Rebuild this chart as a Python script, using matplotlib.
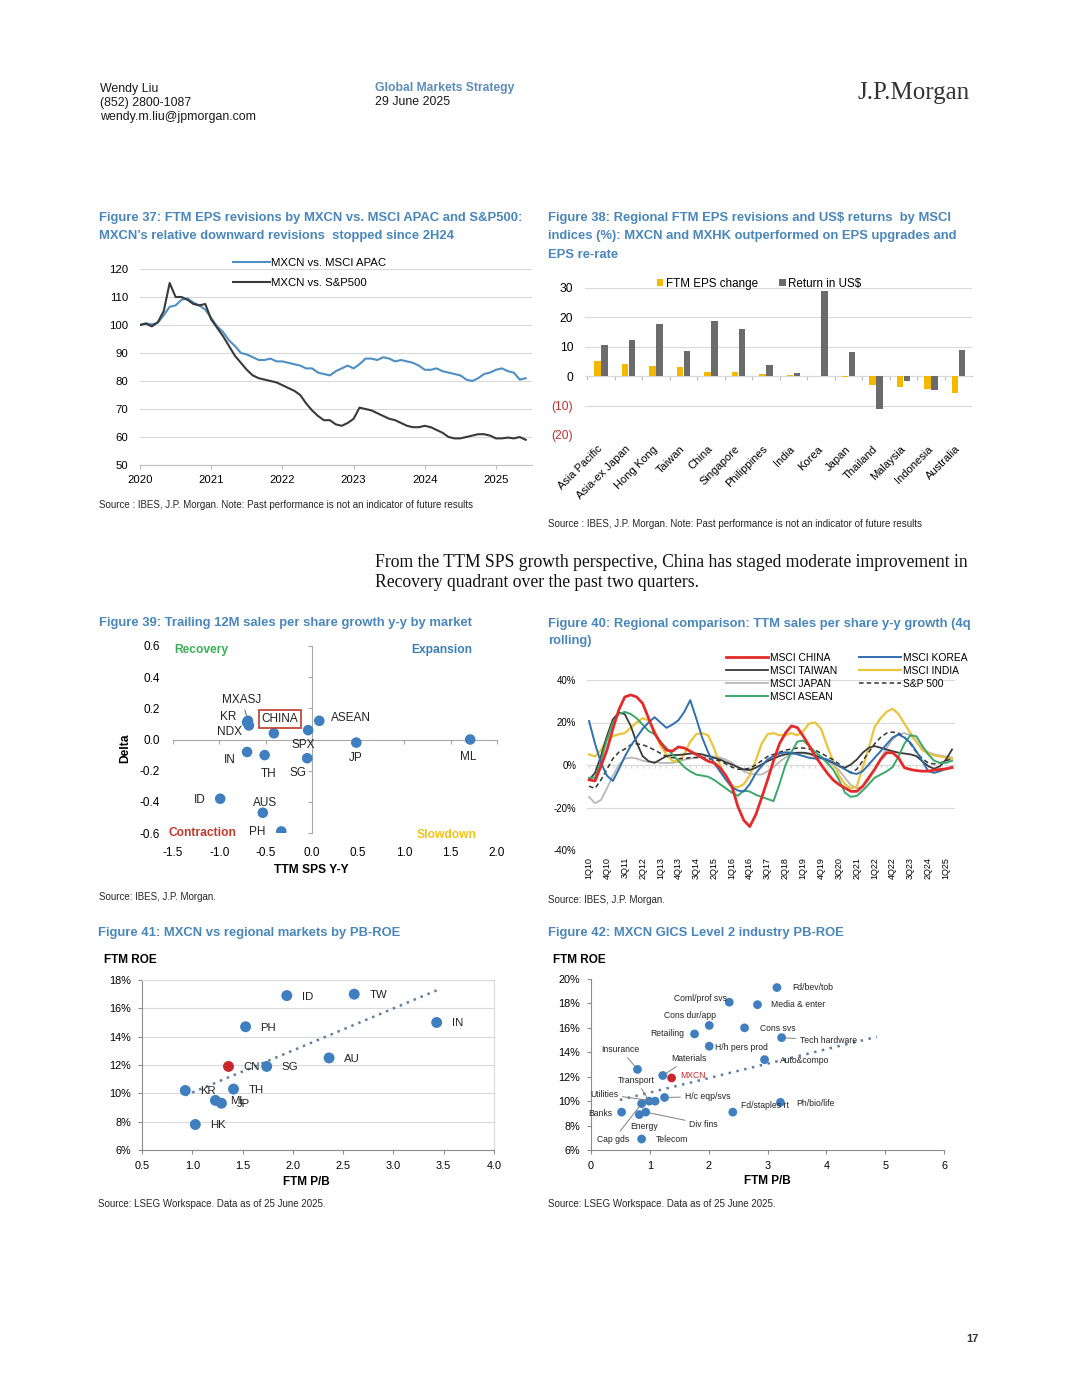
import numpy as np
import matplotlib
matplotlib.use("Agg")
import matplotlib.pyplot as plt
from matplotlib import font_manager as fm

# ============================ DATA ============================
# Figure 37 - relative FTM EPS revision index, monthly, Jan-2020 .. Jun-2025
f37_start_year = 2020
f37_apac = [100.0, 100.6, 100.2, 100.8, 103.5, 106.5, 107.0, 109.0, 109.5, 108.0, 107.0, 105.5,
            102.5, 99.5, 97.5, 94.5, 92.5, 90.0, 89.5, 88.5, 87.5, 87.5, 88.0, 87.0,
            87.0, 86.5, 86.0, 85.5, 84.5, 84.5, 83.0, 82.5, 82.0, 83.5, 84.5, 85.5,
            84.5, 86.0, 88.0, 88.0, 87.5, 88.5, 88.0, 87.0, 87.5, 87.0, 86.5, 85.5,
            84.0, 84.0, 84.5, 83.5, 83.0, 82.5, 82.0, 80.5, 80.0, 81.0, 82.5, 83.0,
            84.0, 84.5, 83.5, 83.0, 80.5, 81.0]
f37_spx = [100.0, 100.5, 99.5, 101.0, 105.0, 115.0, 110.0, 110.0, 109.0, 107.5, 107.0, 107.5,
           102.0, 99.0, 96.0, 92.5, 89.0, 86.5, 84.0, 82.0, 81.0, 80.5, 80.0, 79.5,
           78.5, 77.5, 76.5, 75.0, 72.0, 69.5, 67.5, 66.0, 66.0, 64.5, 64.0, 65.0,
           66.5, 70.5, 70.0, 69.5, 68.5, 67.5, 66.5, 66.0, 65.0, 64.0, 63.5, 63.5,
           64.0, 63.5, 62.5, 61.5, 60.0, 59.5, 59.5, 60.0, 60.5, 61.0, 61.0, 60.5,
           59.5, 59.5, 59.8, 59.5, 60.0, 59.0]
f37_labels = ["MXCN vs. MSCI APAC", "MXCN vs. S&P500"]
f37_xticks = [2020, 2021, 2022, 2023, 2024, 2025]
f37_yticks = [50, 60, 70, 80, 90, 100, 110, 120]

# Figure 38 - FTM EPS change and US$ return (%)
f38_markets = ["Asia Pacific", "Asia-ex Japan", "Hong Kong", "Taiwan", "China", "Singapore",
               "Philippines", "India", "Korea", "Japan", "Thailand", "Malaysia", "Indonesia",
               "Australia"]
f38_eps = [5.2, 4.3, 3.4, 3.2, 1.5, 1.3, 0.6, 0.4, 0.1, -0.3, -2.9, -3.8, -4.4, -5.7]
f38_ret = [10.6, 12.3, 17.8, 8.6, 18.9, 15.9, 3.8, 1.2, 28.9, 8.2, -11.1, -1.7, -4.6, 8.9]
f38_series = ["FTM EPS change", "Return in US$"]
f38_yticks = [-20, -10, 0, 10, 20, 30]
f38_yticklabels = ["(20)", "(10)", "0", "10", "20", "30"]

# Figure 39 - TTM SPS y-y vs delta
f39_names = ["MXASJ", "KR", "NDX", "CHINA", "SPX", "ASEAN", "IN", "TH", "SG", "JP", "ML",
             "ID", "AUS", "PH"]
f39_x = [-0.69, -0.70, -0.68, -0.41, -0.04, 0.08, -0.70, -0.51, -0.05, 0.48, 1.71, -0.99, -0.53, -0.33]
f39_y = [0.12, 0.11, 0.09, 0.04, 0.06, 0.12, -0.08, -0.10, -0.12, -0.02, 0.00, -0.38, -0.47, -0.59]
f39_xticks = [-1.5, -1.0, -0.5, 0.0, 0.5, 1.0, 1.5, 2.0]
f39_yticks = [-0.6, -0.4, -0.2, 0.0, 0.2, 0.4, 0.6]
f39_quadrants = ["Recovery", "Expansion", "Contraction", "Slowdown"]

# Figure 40 - TTM sales per share y-y growth (%), quarterly 1Q10 .. 2Q25
f40_quarters = [f"{q}Q{y:02d}" for y in range(10, 26) for q in range(1, 5)][:62]
f40_china = [-7, -7.5, -0.5, 7, 17, 26, 32, 33, 32, 29, 22, 15, 10.5, 7, 6.5, 8.5, 8, 6.5, 5, 3.4,
             1.8, 1, -1.3, -5, -10, -19.5, -26, -29, -23.5, -15.5, -7, 2, 10, 15, 18.4, 17.6,
             13.6, 9, 4.2, 0.2, -3.7, -7, -9.2, -10.8, -12.4, -12.4, -10, -6, -2, 2.6, 5.8, 5.8,
             3.4, -1.3, -2.1, -2.6, -2.9, -2.9, -2.4, -2.1, -1.8, -1.2]
f40_taiwan = [-7, -3.7, 4.2, 13.6, 21.5, 24.7, 23.9, 18.4, 10.5, 4.2, 1.8, 1, 2.6, 4.2, 4.7, 4.7,
              5, 5.4, 5.4, 5, 4.2, 3.4, 2.6, 1.3, 0.2, -1, -2.1, -2.4, -1.3, 0.2, 1.8, 3, 4.2, 5,
              5.4, 5.8, 5.8, 5.4, 4.5, 3.4, 2.3, 1, -0.5, -1.3, 0.2, 2.6, 5.8, 8.1, 8.9, 8.1, 7.3,
              6.5, 5.8, 5.4, 5, 4.2, 1.8, -0.5, -1.8, -0.5, 2.6, 7.3]
f40_japan = [-15, -18, -16.5, -11, -5, 0, 3, 3.5, 3, 2, 1.5, 1.5, 1, 1, 1, 1.5, 2.5, 3, 3.5, 4,
             4, 4, 3.5, 2.5, 1, -1, -3, -4, -4.5, -4.5, -3, -1, 1.5, 3.5, 5, 5.5, 5.5, 5, 4, 3,
             2, 0, -2.5, -6, -9.5, -11, -10, -7, -2, 3, 8, 12, 14.5, 15, 14, 11, 8, 6, 5, 4.5, 4, 3.5]
f40_asean = [-6, -6, 2, 12, 20, 24, 25, 24, 22, 19, 16, 14.5, 11, 8, 5, 2, -1, -3, -4.5, -5,
             -5.5, -7, -9, -11, -13, -14.5, -12, -12.5, -14, -15, -16, -17, -9, 0, 6, 11, 11.5,
             9, 6, 4, 1, -2, -7, -13, -15, -14.5, -12, -9, -6, -4.5, -3, -1, 4, 10, 14, 13.5, 9,
             5, 2, 1, 1, 2]
f40_korea = [20.7, 10, 1, -5, -7.5, -2, 4, 9, 13, 17, 20, 22.5, 20, 17.5, 19, 21, 25, 30.5, 22,
             13, 6, 1, -3, -7, -10.5, -12, -12.5, -9, -4, -0.5, 2.6, 4.2, 5.4, 6, 5.8, 5, 4.2,
             3.4, 3, 3.4, 2.6, 1.3, -0.5, -2, -3.7, -4.2, -2.9, 0.2, 3.4, 6.5, 9.7, 12.9, 14.4,
             12.9, 10.5, 6.5, 1.8, -2.9, -3.7, -2.9, -1.8, -0.9]
f40_india = [5, 4, 7, 12, 13.5, 14.5, 15, 17.5, 20, 22, 21, 16, 9, 5, 2, 1.5, 5, 11, 14.5, 15,
             14, 8, 0, -6, -10, -10.5, -9, -5, 2, 10, 14.5, 15, 14, 14, 15, 14, 16, 19.5, 20, 17,
             9, 2, -5, -9, -11, -10, -1, 8, 18, 22, 25, 26.5, 24, 19.5, 15, 11, 7, 5.5, 4.5, 4, 3.5, 3]
f40_spx = [-10, -11, -7, -2, 3, 6, 7.5, 9.5, 10, 9.5, 8.5, 7, 5.5, 4, 3.5, 3, 3, 3.5, 3.5, 3.5,
           3, 2.5, 2, 0.5, -1, -2, -2, -1.5, 0, 2, 4, 5, 6, 7, 7.5, 8, 8, 7.5, 7, 5.5, 4, 2.5,
           0.5, -2, -3.5, -2, 2, 6, 10, 13, 15, 15.5, 15, 13, 10, 6, 3, 1, 0.5, 1, 2, 3]
f40_names = ["MSCI CHINA", "MSCI TAIWAN", "MSCI JAPAN", "MSCI ASEAN", "MSCI KOREA",
             "MSCI INDIA", "S&P 500"]
f40_yticks = [-40, -20, 0, 20, 40]

# Figure 41 - markets PB vs ROE
f41_names = ["ID", "TW", "IN", "PH", "AU", "CN", "SG", "KR", "TH", "ML", "JP", "HK"]
f41_pb = [1.94, 2.61, 3.43, 1.53, 2.36, 1.36, 1.74, 0.93, 1.41, 1.23, 1.29, 1.03]
f41_roe = [16.9, 17.0, 15.0, 14.7, 12.5, 11.9, 11.9, 10.2, 10.3, 9.5, 9.3, 7.8]
f41_xticks = [0.5, 1.0, 1.5, 2.0, 2.5, 3.0, 3.5, 4.0]
f41_yticks = [6, 8, 10, 12, 14, 16, 18]

# Figure 42 - MXCN industries PB vs ROE
f42_names = ["Fd/bev/tob", "Coml/prof svs", "Media & enter", "Cons dur/app", "Cons svs",
             "Retailing", "Tech hardware", "H/h pers prod", "Auto&compo", "Insurance",
             "Materials", "MXCN", "H/c eqp/svs", "Transport", "Utilities", "Cap gds",
             "Ph/bio/life", "Banks", "Fd/staples rt", "Energy", "Div fins", "Telecom"]
f42_pb = [3.16, 2.35, 2.83, 2.01, 2.61, 1.76, 3.24, 2.01, 2.95, 0.79, 1.22, 1.37, 1.25, 0.99,
          1.09, 0.86, 3.22, 0.52, 2.41, 0.82, 0.93, 0.86]
f42_roe = [19.3, 18.1, 17.9, 16.2, 16.0, 15.5, 15.2, 14.5, 13.4, 12.6, 12.1, 11.9, 10.3, 10.0,
           10.0, 9.8, 9.9, 9.1, 9.1, 8.9, 9.1, 6.9]
f42_trend_pb = [0.49, 4.86]
f42_trend_roe = [10.1, 15.27]
f42_xticks = [0, 1, 2, 3, 4, 5, 6]
f42_yticks = [6, 8, 10, 12, 14, 16, 18, 20]

# ============================ STYLE ============================
_names = {f.name for f in fm.fontManager.ttflist}
if "Liberation Sans Narrow" in _names:
    CH, K = "Liberation Sans Narrow", 1.0
else:
    CH, K = "Liberation Sans", 0.82
SANS = "Liberation Sans"
SERIF = "Liberation Serif"
plt.rcParams["font.family"] = [CH, "DejaVu Sans"]
plt.rcParams["axes.unicode_minus"] = False


def cs(v):
    return v * K


W, H = 1080, 1398
TC = "#4a86b9"
GRID = "#d9d9d9"
AXC = "#8c8c8c"
BLUE = "#3f7fbf"
RED = "#c8282d"

fig = plt.figure(figsize=(W / 100, H / 100), dpi=100)
fig.patch.set_facecolor("white")


def R(x0, y0, x1, y1):
    return [x0 / W, 1 - y1 / H, (x1 - x0) / W, (y1 - y0) / H]


def FP(x, y):
    return (x / W, 1 - y / H)


def T(x, y, s, **kw):
    kw.setdefault("va", "center")
    kw.setdefault("ha", "left")
    kw.setdefault("family", SANS)
    return fig.text(x / W, 1 - y / H, s, **kw)


# ---------------- page header / text ----------------
T(100, 89, "Wendy Liu", size=8.9, color="#1a1a1a")
T(100, 103, "(852) 2800-1087", size=8.9, color="#1a1a1a")
T(100, 117, "wendy.m.liu@jpmorgan.com", size=8.9, color="#1a1a1a")
T(375, 88, "Global Markets Strategy", size=8.7, weight="bold", color="#5b8db8")
T(375, 102, "29 June 2025", size=8.9, color="#1a1a1a")
T(970, 93, "J.P.Morgan", size=18, family=SERIF, ha="right", color="#333333")

TK = dict(size=9.4, weight="bold", color=TC)
T(99, 218, "Figure 37: FTM EPS revisions by MXCN vs. MSCI APAC and S&P500:", **TK)
T(99, 236, "MXCN\u2019s relative downward revisions  stopped since 2H24", **TK)
T(548, 218, "Figure 38: Regional FTM EPS revisions and US$ returns  by MSCI", **TK)
T(548, 236, "indices (%): MXCN and MXHK outperformed on EPS upgrades and", **TK)
T(548, 255, "EPS re-rate", **TK)
T(99, 623, "Figure 39: Trailing 12M sales per share growth y-y by market", **TK)
T(548, 624, "Figure 40: Regional comparison: TTM sales per share y-y growth (4q", **TK)
T(548, 641, "rolling)", **TK)
T(98, 933, "Figure 41: MXCN vs regional markets by PB-ROE", **TK)
T(548, 933, "Figure 42: MXCN GICS Level 2 industry PB-ROE", **TK)

SK = dict(size=7, color="#262626")
src1 = "Source : IBES, J.P. Morgan. Note: Past performance is not an indicator of future results"
T(99, 505, src1, **SK)
T(548, 524, src1, **SK)
T(99, 897, "Source: IBES, J.P. Morgan.", **SK)
T(548, 900, "Source: IBES, J.P. Morgan.", **SK)
T(98, 1204, "Source: LSEG Workspace. Data as of 25 June 2025.", **SK)
T(548, 1204, "Source: LSEG Workspace. Data as of 25 June 2025.", **SK)

T(375, 563, "From the TTM SPS growth perspective, China has staged moderate improvement in",
  family=SERIF, size=12.7, color="#111111")
T(375, 583, "Recovery quadrant over the past two quarters.", family=SERIF, size=12.7, color="#111111")
T(972, 1339, "17", size=8, ha="center", weight="bold", color="#333333")

# ---------------- Figure 37 ----------------
ax = fig.add_axes(R(140, 269, 531.6, 465))
yrs = f37_start_year + np.arange(len(f37_apac)) / 12.0
ax.plot(yrs, f37_apac, color="#4f8fc2", lw=1.5, label=f37_labels[0])
ax.plot(yrs, f37_spx, color="#3a3a3a", lw=1.5, label=f37_labels[1])
ax.set_xlim(2020, 2025.5)
ax.set_ylim(50, 120)
ax.set_xticks(f37_xticks)
ax.set_yticks(f37_yticks)
ax.grid(axis="y", color=GRID, lw=0.8)
ax.set_axisbelow(True)
for s in ["top", "right", "left"]:
    ax.spines[s].set_visible(False)
ax.spines["bottom"].set_color("#bfbfbf")
ax.tick_params(axis="y", length=0, pad=8.5, labelsize=cs(10))
ax.tick_params(axis="x", length=3, color="#bfbfbf", pad=4.5, labelsize=cs(10))
ax.legend(loc="upper left", bbox_to_anchor=FP(233, 258), bbox_transform=fig.transFigure,
          frameon=False, fontsize=cs(10), handlelength=3.25, handletextpad=0.1,
          borderpad=0, borderaxespad=0, labelspacing=0.85)

# ---------------- Figure 38 ----------------
ax = fig.add_axes(R(585, 288, 972, 435))
xs = np.arange(len(f38_markets))
ax.bar(xs - 0.125, f38_eps, width=0.245, color="#f5b800", label=f38_series[0], zorder=3)
ax.bar(xs + 0.125, f38_ret, width=0.245, color="#6b6b6b", label=f38_series[1], zorder=3)
ax.set_xlim(-0.58, 13.49)
ax.set_ylim(-20, 30)
ax.set_yticks(f38_yticks)
ax.set_yticklabels(f38_yticklabels)
for lab, v in zip(ax.get_yticklabels(), f38_yticks):
    if v < 0:
        lab.set_color("#b83232")
ax.grid(axis="y", color=GRID, lw=0.8)
ax.set_axisbelow(True)
for s in ax.spines.values():
    s.set_visible(False)
ax.set_xticks(xs)
ax.set_xticklabels(f38_markets, rotation=45, ha="right", va="center", rotation_mode="anchor")
ax.tick_params(axis="x", length=0, pad=9, labelsize=cs(9.8))
ax.tick_params(axis="y", length=0, pad=8.5, labelsize=cs(10.5))
sec = ax.secondary_xaxis(0.4)
sec.set_alignment("bottom")
sec.set_xticks(np.arange(-0.5, 14, 1))
sec.set_xticklabels([])
sec.spines["bottom"].set_color("#bfbfbf")
sec.tick_params(length=3, color="#bfbfbf")
ax.legend(loc="upper left", bbox_to_anchor=FP(657, 278), bbox_transform=fig.transFigure, ncol=2,
          frameon=False, fontsize=cs(10.2), handlelength=0.55, handleheight=0.55,
          handletextpad=0.2, columnspacing=1.85, borderpad=0, borderaxespad=0)

# ---------------- Figure 39 ----------------
ax = fig.add_axes(R(173, 646, 497, 833))
ax.set_xlim(-1.5, 2.0)
ax.set_ylim(-0.6, 0.6)
ax.scatter(f39_x, f39_y, s=58, color=BLUE, edgecolors="none", zorder=4)
for s in ax.spines.values():
    s.set_visible(False)
ax.set_xticks(f39_xticks)
ax.set_xticklabels([f"{v:.1f}" for v in f39_xticks])
ax.set_yticks(f39_yticks)
ax.set_yticklabels([f"{v:.1f}" for v in f39_yticks])
ax.tick_params(length=0, labelsize=cs(10.3))
ax.tick_params(axis="x", pad=10)
ax.tick_params(axis="y", pad=9.4)
sx = ax.secondary_xaxis(0.5)
sx.set_alignment("bottom")
sx.set_xticks(f39_xticks)
sx.set_xticklabels([])
sx.spines["bottom"].set_color("#a6a6a6")
sx.tick_params(length=3, color="#a6a6a6")
sy = ax.secondary_yaxis(1.5 / 3.5)
sy.set_yticks(f39_yticks)
sy.set_yticklabels([])
sy.spines["left"].set_color("#a6a6a6")
sy.tick_params(length=3, color="#a6a6a6")

lab39 = {"MXASJ": (-6, 21), "KR": (-19, 5), "NDX": (-19, -7), "CHINA": (6, 14),
         "SPX": (-5, -15), "ASEAN": (32, 3), "IN": (-17, -8), "TH": (4, -19), "SG": (-9, -15),
         "JP": (-1, -15), "ML": (-2, -18), "ID": (-20, -1), "AUS": (2, 10), "PH": (-24, -1)}
for n, x, y in zip(f39_names, f39_x, f39_y):
    dx, dy = lab39[n]
    kw = dict(textcoords="offset pixels", ha="center", va="center", fontsize=cs(10.3),
              color="#222222", zorder=5)
    if n == "CHINA":
        kw["bbox"] = dict(boxstyle="square,pad=0.25", fc="white", ec="#c0392b", lw=1.2)
    if n == "MXASJ":
        kw["arrowprops"] = dict(arrowstyle="-", color="#777777", lw=0.8, shrinkA=1, shrinkB=4)
    ax.annotate(n, (x, y), xytext=(dx, dy), **kw)

qcol = ["#3cae5a", "#3a7fb8", "#c0392b", "#f0c21a"]
qpos = [(0.003, 0.979, "left"), (0.923, 0.979, "right"), (-0.015, 0.0, "left"),
        (0.938, -0.011, "right")]
for name, c, (qx, qy, ha) in zip(f39_quadrants, qcol, qpos):
    ax.text(qx, qy, name, transform=ax.transAxes, ha=ha, va="center", color=c,
            fontsize=cs(10.5), weight="bold")
T(125, 748, "Delta", family=CH, size=cs(10.5), weight="bold", rotation=90, ha="center")
T(311, 870, "TTM SPS Y-Y", family=CH, size=cs(10.5), weight="bold", ha="center")

# ---------------- Figure 40 ----------------
ax = fig.add_axes(R(586.7, 680, 955, 850))
q = np.arange(len(f40_quarters))
f40_values = [f40_china, f40_taiwan, f40_japan, f40_asean, f40_korea, f40_india, f40_spx]
f40_style = [dict(color="#e32b2b", lw=2.0, zorder=8),
             dict(color="#3a3a3a", lw=1.3, zorder=5),
             dict(color="#b8b8b8", lw=1.3, zorder=3),
             dict(color="#3aa86b", lw=1.4, zorder=6),
             dict(color="#2f70ad", lw=1.4, zorder=7),
             dict(color="#eac43a", lw=1.6, zorder=4),
             dict(color="#333333", lw=1.1, ls=(0, (3, 2)), zorder=5)]
for name, vals, st in zip(f40_names, f40_values, f40_style):
    ax.plot(q, vals, label=name, **st)
ax.set_xlim(-0.4, 61.5)
ax.set_ylim(-40, 40)
ax.set_yticks(f40_yticks)
ax.set_yticklabels([f"{v}%" for v in f40_yticks])
ax.grid(axis="y", color=GRID, lw=0.8)
ax.set_axisbelow(True)
for s in ax.spines.values():
    s.set_visible(False)
ax.set_xticks(q[::3])
ax.set_xticklabels(f40_quarters[::3], rotation=90)
ax.tick_params(axis="x", length=0, pad=5, labelsize=cs(7.9))
ax.tick_params(axis="y", length=0, pad=7.5, labelsize=cs(8.5))
s0 = ax.secondary_xaxis(0.5)
s0.set_alignment("bottom")
s0.set_xticks(q)
s0.set_xticklabels([])
s0.spines["bottom"].set_color(GRID)
s0.tick_params(length=2.5, color=GRID)
ax.legend(loc="upper left", bbox_to_anchor=FP(726, 653), bbox_transform=fig.transFigure, ncol=2,
          frameon=False, fontsize=cs(9), handlelength=4.1, handletextpad=0.2,
          columnspacing=2.1, borderpad=0, borderaxespad=0, labelspacing=0.28)

# ---------------- Figure 41 ----------------
ax = fig.add_axes(R(142, 980, 494, 1150))
ax.set_xlim(0.5, 4.0)
ax.set_ylim(6, 18)
cols41 = [RED if n == "CN" else BLUE for n in f41_names]
ax.scatter(f41_pb, f41_roe, s=62, c=cols41, edgecolors="none", zorder=4)
coef = np.polyfit(f41_pb, f41_roe, 1)
tx = np.array([min(f41_pb), max(f41_pb)])
ax.plot(tx, np.polyval(coef, tx), ls=(0, (1, 2)), color="#5f7f9f", lw=1.8, zorder=3)
for n, x, y in zip(f41_names, f41_pb, f41_roe):
    ax.annotate(n, (x, y), xytext=(15, -1), textcoords="offset pixels", ha="left", va="center",
                fontsize=cs(10), color="#222222", zorder=5)
ax.set_xticks(f41_xticks)
ax.set_xticklabels([f"{v:.1f}" for v in f41_xticks])
ax.set_yticks(f41_yticks)
ax.set_yticklabels([f"{v}%" for v in f41_yticks])
ax.grid(axis="y", color=GRID, lw=0.8)
ax.set_axisbelow(True)
for s in ["top", "right"]:
    ax.spines[s].set_color(GRID)
for s in ["left", "bottom"]:
    ax.spines[s].set_color(AXC)
ax.tick_params(length=3, color=AXC, pad=5, labelsize=cs(9.6))
T(104, 960, "FTM ROE", family=CH, size=cs(10.3), weight="bold")
T(306, 1182, "FTM P/B", family=CH, size=cs(10.3), weight="bold", ha="center")

# ---------------- Figure 42 ----------------
ax = fig.add_axes(R(591, 979, 944, 1150))
ax.set_xlim(0, 6)
ax.set_ylim(6, 20)
cols42 = [RED if n == "MXCN" else BLUE for n in f42_names]
ax.scatter(f42_pb, f42_roe, s=40, c=cols42, edgecolors="none", zorder=4)
ax.plot(f42_trend_pb, f42_trend_roe, ls=(0, (1, 2.2)), color="#5f7f9f", lw=1.8, zorder=3)
lab42 = {"Fd/bev/tob": (15, 0, "left", False), "Coml/prof svs": (-2, 4, "right", False),
         "Media & enter": (14, 0, "left", False), "Cons dur/app": (-19, 10, "center", False),
         "Cons svs": (15, -1, "left", False), "Retailing": (-10, 0, "right", False),
         "Tech hardware": (18, -3, "left", True), "H/h pers prod": (6, -1, "left", False),
         "Auto&compo": (15, -1, "left", False), "Insurance": (-17, 20, "center", True),
         "Materials": (26, 17, "center", True), "MXCN": (9, 2, "left", False),
         "H/c eqp/svs": (20, 1, "left", True), "Transport": (-13, 21, "center", True),
         "Utilities": (-51, 7, "center", True), "Cap gds": (-28, -36, "center", True),
         "Ph/bio/life": (16, -1, "left", False), "Banks": (-9, -1, "right", False),
         "Fd/staples rt": (8, 7, "left", False), "Energy": (5, -12, "center", False),
         "Div fins": (58, -12, "center", True), "Telecom": (14, 0, "left", False)}
for n, x, y in zip(f42_names, f42_pb, f42_roe):
    dx, dy, ha, lead = lab42[n]
    kw = dict(textcoords="offset pixels", ha=ha, va="center", fontsize=cs(7.6),
              color=(RED if n == "MXCN" else "#222222"), zorder=5)
    if lead:
        kw["arrowprops"] = dict(arrowstyle="-", color="#808080", lw=0.7, shrinkA=1, shrinkB=3)
    ax.annotate(n, (x, y), xytext=(dx, dy), **kw)
ax.set_xticks(f42_xticks)
ax.set_yticks(f42_yticks)
ax.set_yticklabels([f"{v}%" for v in f42_yticks])
for s in ["top", "right"]:
    ax.spines[s].set_visible(False)
for s in ["left", "bottom"]:
    ax.spines[s].set_color(AXC)
ax.tick_params(length=3, color=AXC, pad=5, labelsize=cs(9.6))
T(553, 960, "FTM ROE", family=CH, size=cs(10.3), weight="bold")
T(767, 1181, "FTM P/B", family=CH, size=cs(10.3), weight="bold", ha="center")

fig.savefig("out.png", dpi=100, facecolor="white")
